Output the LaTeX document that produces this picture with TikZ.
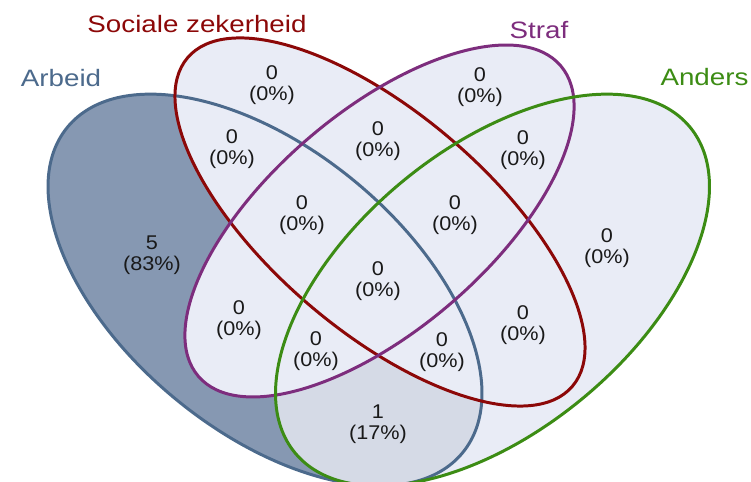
\documentclass[tikz,border=0pt]{standalone}
\usepackage{fontspec}
\setmainfont{Liberation Sans}
\usepackage{graphicx}
\definecolor{cArb}{RGB}{76,106,140}
\definecolor{cSoc}{RGB}{140,8,8}
\definecolor{cStr}{RGB}{125,45,125}
\definecolor{cAnd}{RGB}{60,140,20}
\definecolor{cDark}{RGB}{134,152,178}
\definecolor{cMed}{RGB}{213,218,230}
\definecolor{cLight}{RGB}{233,236,246}
\definecolor{cTxt}{RGB}{25,25,25}
\newcommand\sxl[1]{\scalebox{1.17}[1]{#1}}
\newcommand\cnt[2]{\scalebox{1.09}[1]{\begin{tabular}{@{}c@{}}#1\\#2\end{tabular}}}
\newcommand\ellA{(265,192) ellipse [x radius=256, y radius=141]}
\newcommand\ellB{(380,260) ellipse [x radius=253, y radius=109]}
\newcommand\ellC{(379.5,261) ellipse [x radius=238.6, y radius=109]}
\newcommand\ellD{(492.5,192) ellipse [x radius=256, y radius=141]}
\tikzset{
  eA/.style={rotate around={-39.5:(265,192)}},
  eB/.style={rotate around={-40.5:(380,260)}},
  eC/.style={rotate around={40.6:(379.5,261)}},
  eD/.style={rotate around={39.5:(492.5,192)}},
  outline/.style={line width=1.7pt},
  lab/.style={inner sep=0pt, font=\fontsize{13.5}{14}\selectfont},
  num/.style={inner sep=0pt, text=cTxt, font=\fontsize{11.3}{11.4}\selectfont}
}
\begin{document}
\begin{tikzpicture}[x=0.02cm,y=0.02cm]
\useasboundingbox (0,0) rectangle (751,482);
% base fills
\fill[cLight,eA] \ellA;
\fill[cLight,eB] \ellB;
\fill[cLight,eC] \ellC;
\fill[cLight,eD] \ellD;
\begin{scope}
  \clip[eA] \ellA;
  \fill[cDark,eA] \ellA;
  \fill[cMed,eD] \ellD;
  \fill[cLight,eB] \ellB;
  \fill[cLight,eC] \ellC;
\end{scope}
% outlines
\draw[outline,cArb,eA] \ellA;
\draw[outline,cSoc,eB] \ellB;
\draw[outline,cStr,eC] \ellC;
\draw[outline,cAnd,eD] \ellD;
% set labels
\node[lab,text=cArb] (tArb) at (61,404) {\sxl{Arbeid}};
\node[lab,text=cSoc] (tSoc) at (197,458) {\sxl{Sociale zekerheid}};
\node[lab,text=cStr] (tStr) at (539,452) {\sxl{Straf}};
\node[lab,text=cAnd] (tAnd) at (704.5,404.5) {\sxl{Anders}};
% counts
\node[num] (nB) at (272,396) {\cnt{0}{(0\%)}};
\node[num] (nC) at (480,394) {\cnt{0}{(0\%)}};
\node[num] (nAB) at (232,332) {\cnt{0}{(0\%)}};
\node[num] (nBC) at (378,340) {\cnt{0}{(0\%)}};
\node[num] (nCD) at (523,331) {\cnt{0}{(0\%)}};
\node[num] (nABC) at (302,266) {\cnt{0}{(0\%)}};
\node[num] (nBCD) at (455,266) {\cnt{0}{(0\%)}};
\node[num] (nA) at (152,226) {\cnt{5}{(83\%)}};
\node[num] (nD) at (607,233) {\cnt{0}{(0\%)}};
\node[num] (nABCD) at (378,200) {\cnt{0}{(0\%)}};
\node[num] (nAC) at (239,161) {\cnt{0}{(0\%)}};
\node[num] (nBD) at (523,156) {\cnt{0}{(0\%)}};
\node[num] (nACD) at (316,130) {\cnt{0}{(0\%)}};
\node[num] (nABD) at (442,129) {\cnt{0}{(0\%)}};
\node[num] (nAD) at (378,57) {\cnt{1}{(17\%)}};
\end{tikzpicture}
\end{document}
